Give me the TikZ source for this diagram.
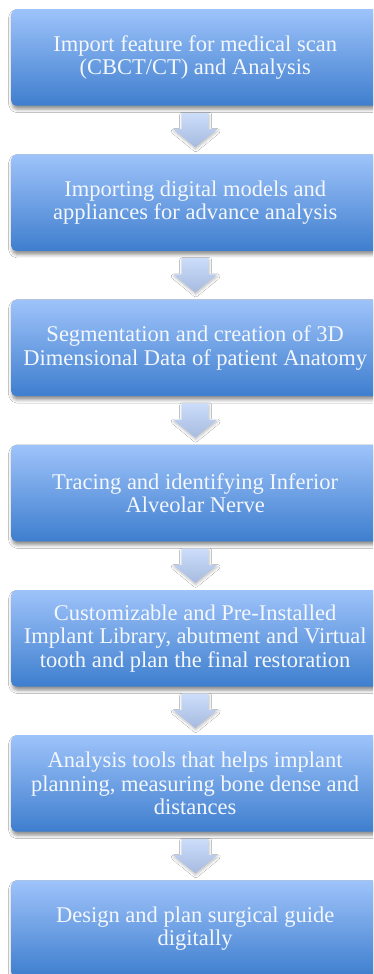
\documentclass[tikz,border=0pt]{standalone}
\usepackage{fontspec}
\setmainfont{Liberation Serif}
\usetikzlibrary{calc,shadows.blur}

\definecolor{boxtop}{RGB}{158,195,250}
\definecolor{boxbot}{RGB}{62,126,206}
\definecolor{arrtop}{RGB}{204,221,250}
\definecolor{arrbot}{RGB}{166,187,224}
\definecolor{boxtext}{RGB}{244,247,252}

% block arrow between two stacked boxes
\newcommand\flowdown[2]{%
  \path[arrowfill]
    ($(#1.south)+(-13.5,-7)$) -- ($(#1.south)+(13.5,-7)$)
    -- ($(#2.north)+(13.5,25)$) -- ($(#2.north)+(22,25)$)
    -- ($(#2.north)+(0,7)$)
    -- ($(#2.north)+(-22,25)$) -- ($(#2.north)+(-13.5,25)$) -- cycle;}

\begin{document}
\begin{tikzpicture}[x=1pt,y=1pt,
  stepbox/.style={anchor=north west, rounded corners=5pt,
    minimum width=368pt, minimum height=96.5pt, inner sep=0pt,
    top color=boxtop, bottom color=boxbot, text=boxtext,
    align=center, font=\fontsize{22.5}{23.5}\selectfont,
    blur shadow={shadow xshift=1pt, shadow yshift=-3.5pt,
      shadow blur radius=3.5pt, shadow opacity=45}},
  arrowfill/.style={top color=arrtop, bottom color=arrbot,
    blur shadow={shadow xshift=0.5pt, shadow yshift=-2pt,
      shadow blur radius=2.5pt, shadow opacity=25}}]
\useasboundingbox (0,0) rectangle (373,-974);
\clip (0,0) rectangle (373,-974);
\fill[white] (0,0) rectangle (373,-974);

\node[stepbox] (b1) at (11,-9)
  {Import feature for medical scan\\(CBCT/CT) and Analysis};
\node[stepbox] (b2) at (11,-154.2)
  {Importing digital models and\\appliances for advance analysis};
\node[stepbox] (b3) at (11,-299.4)
  {Segmentation and creation of 3D\\Dimensional Data of patient Anatomy};
\node[stepbox] (b4) at (11,-444.6)
  {Tracing and identifying Inferior\\Alveolar Nerve};
\node[stepbox] (b5) at (11,-589.8)
  {Customizable and Pre-Installed\\Implant Library, abutment and Virtual\\tooth and plan the final restoration};
\node[stepbox] (b6) at (11,-735)
  {Analysis tools that helps implant\\planning, measuring bone dense and\\distances};
\node[stepbox] (b7) at (11,-880.2)
  {Design and plan surgical guide\\digitally};

\flowdown{b1}{b2}
\flowdown{b2}{b3}
\flowdown{b3}{b4}
\flowdown{b4}{b5}
\flowdown{b5}{b6}
\flowdown{b6}{b7}
\end{tikzpicture}
\end{document}
